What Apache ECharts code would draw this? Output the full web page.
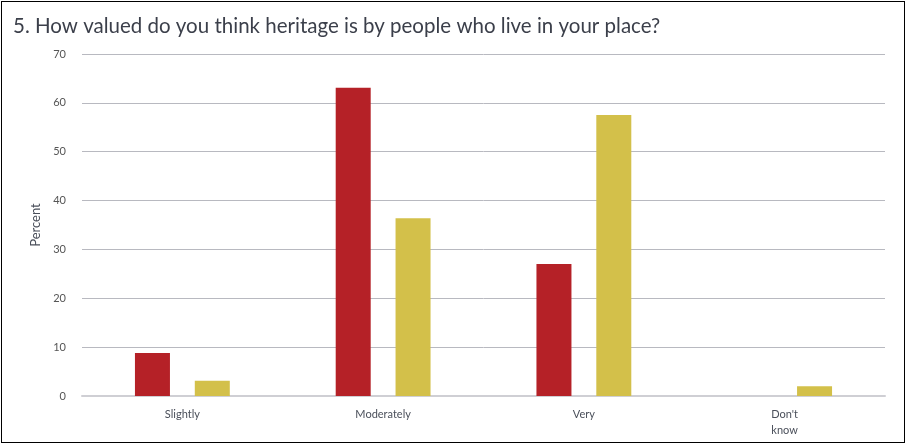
<!DOCTYPE html>
<html><head><meta charset="utf-8">
<script src="https://cdn.jsdelivr.net/npm/echarts@6/dist/echarts.min.js"></script>
<style>
html,body{margin:0;padding:0;background:#fff;}
#c{position:absolute;left:1px;top:1px;width:902px;height:440px;border:1px solid #000;box-sizing:content-box;}
</style></head><body>
<div id="c"></div>
<script>
const categories = ['Slightly', 'Moderately', 'Very', "Don't\nknow"];
const seriesA = [8.8, 63.1, 27.0, 0];
const seriesB = [3.1, 36.4, 57.5, 2.0];
const yTicks = [0, 10, 20, 30, 40, 50, 60, 70];

const chart = echarts.init(document.getElementById('c'));
chart.setOption({
  animation: false,
  title: {
    text: '5. How valued do you think heritage is by people who live in your place?',
    left: 6, top: 9,
    textStyle: {fontFamily: 'Lato', fontSize: 20.5, fontWeight: 'normal', color: '#3b3f4a'}
  },
  grid: {left: 80, right: 19, top: 52, bottom: 46},
  xAxis: {
    type: 'category', data: categories,
    axisLine: {lineStyle: {color: '#cfcfd4', width: 2}},
    axisTick: {show: false},
    axisLabel: {fontFamily: 'Lato', fontSize: 11, color: '#4a4f5a', margin: 10, lineHeight: 16}
  },
  yAxis: {
    type: 'value', min: yTicks[0], max: yTicks[yTicks.length - 1], interval: 10,
    name: 'Percent', nameLocation: 'middle', nameGap: 37,
    nameTextStyle: {fontFamily: 'Lato', fontSize: 13, color: '#4a4f5a'},
    axisLabel: {fontFamily: 'Lato', fontSize: 11, color: '#555', margin: 16},
    splitLine: {lineStyle: {color: '#b8b9c0', width: 1}},
    axisLine: {show: false}, axisTick: {show: false}
  },
  series: [
    {type: 'bar', data: seriesA, barWidth: 35, barGap: '71%',
     itemStyle: {color: '#b52127'}},
    {type: 'bar', data: seriesB, barWidth: 35,
     itemStyle: {color: '#d3c04a'}}
  ]
});
</script></body></html>
